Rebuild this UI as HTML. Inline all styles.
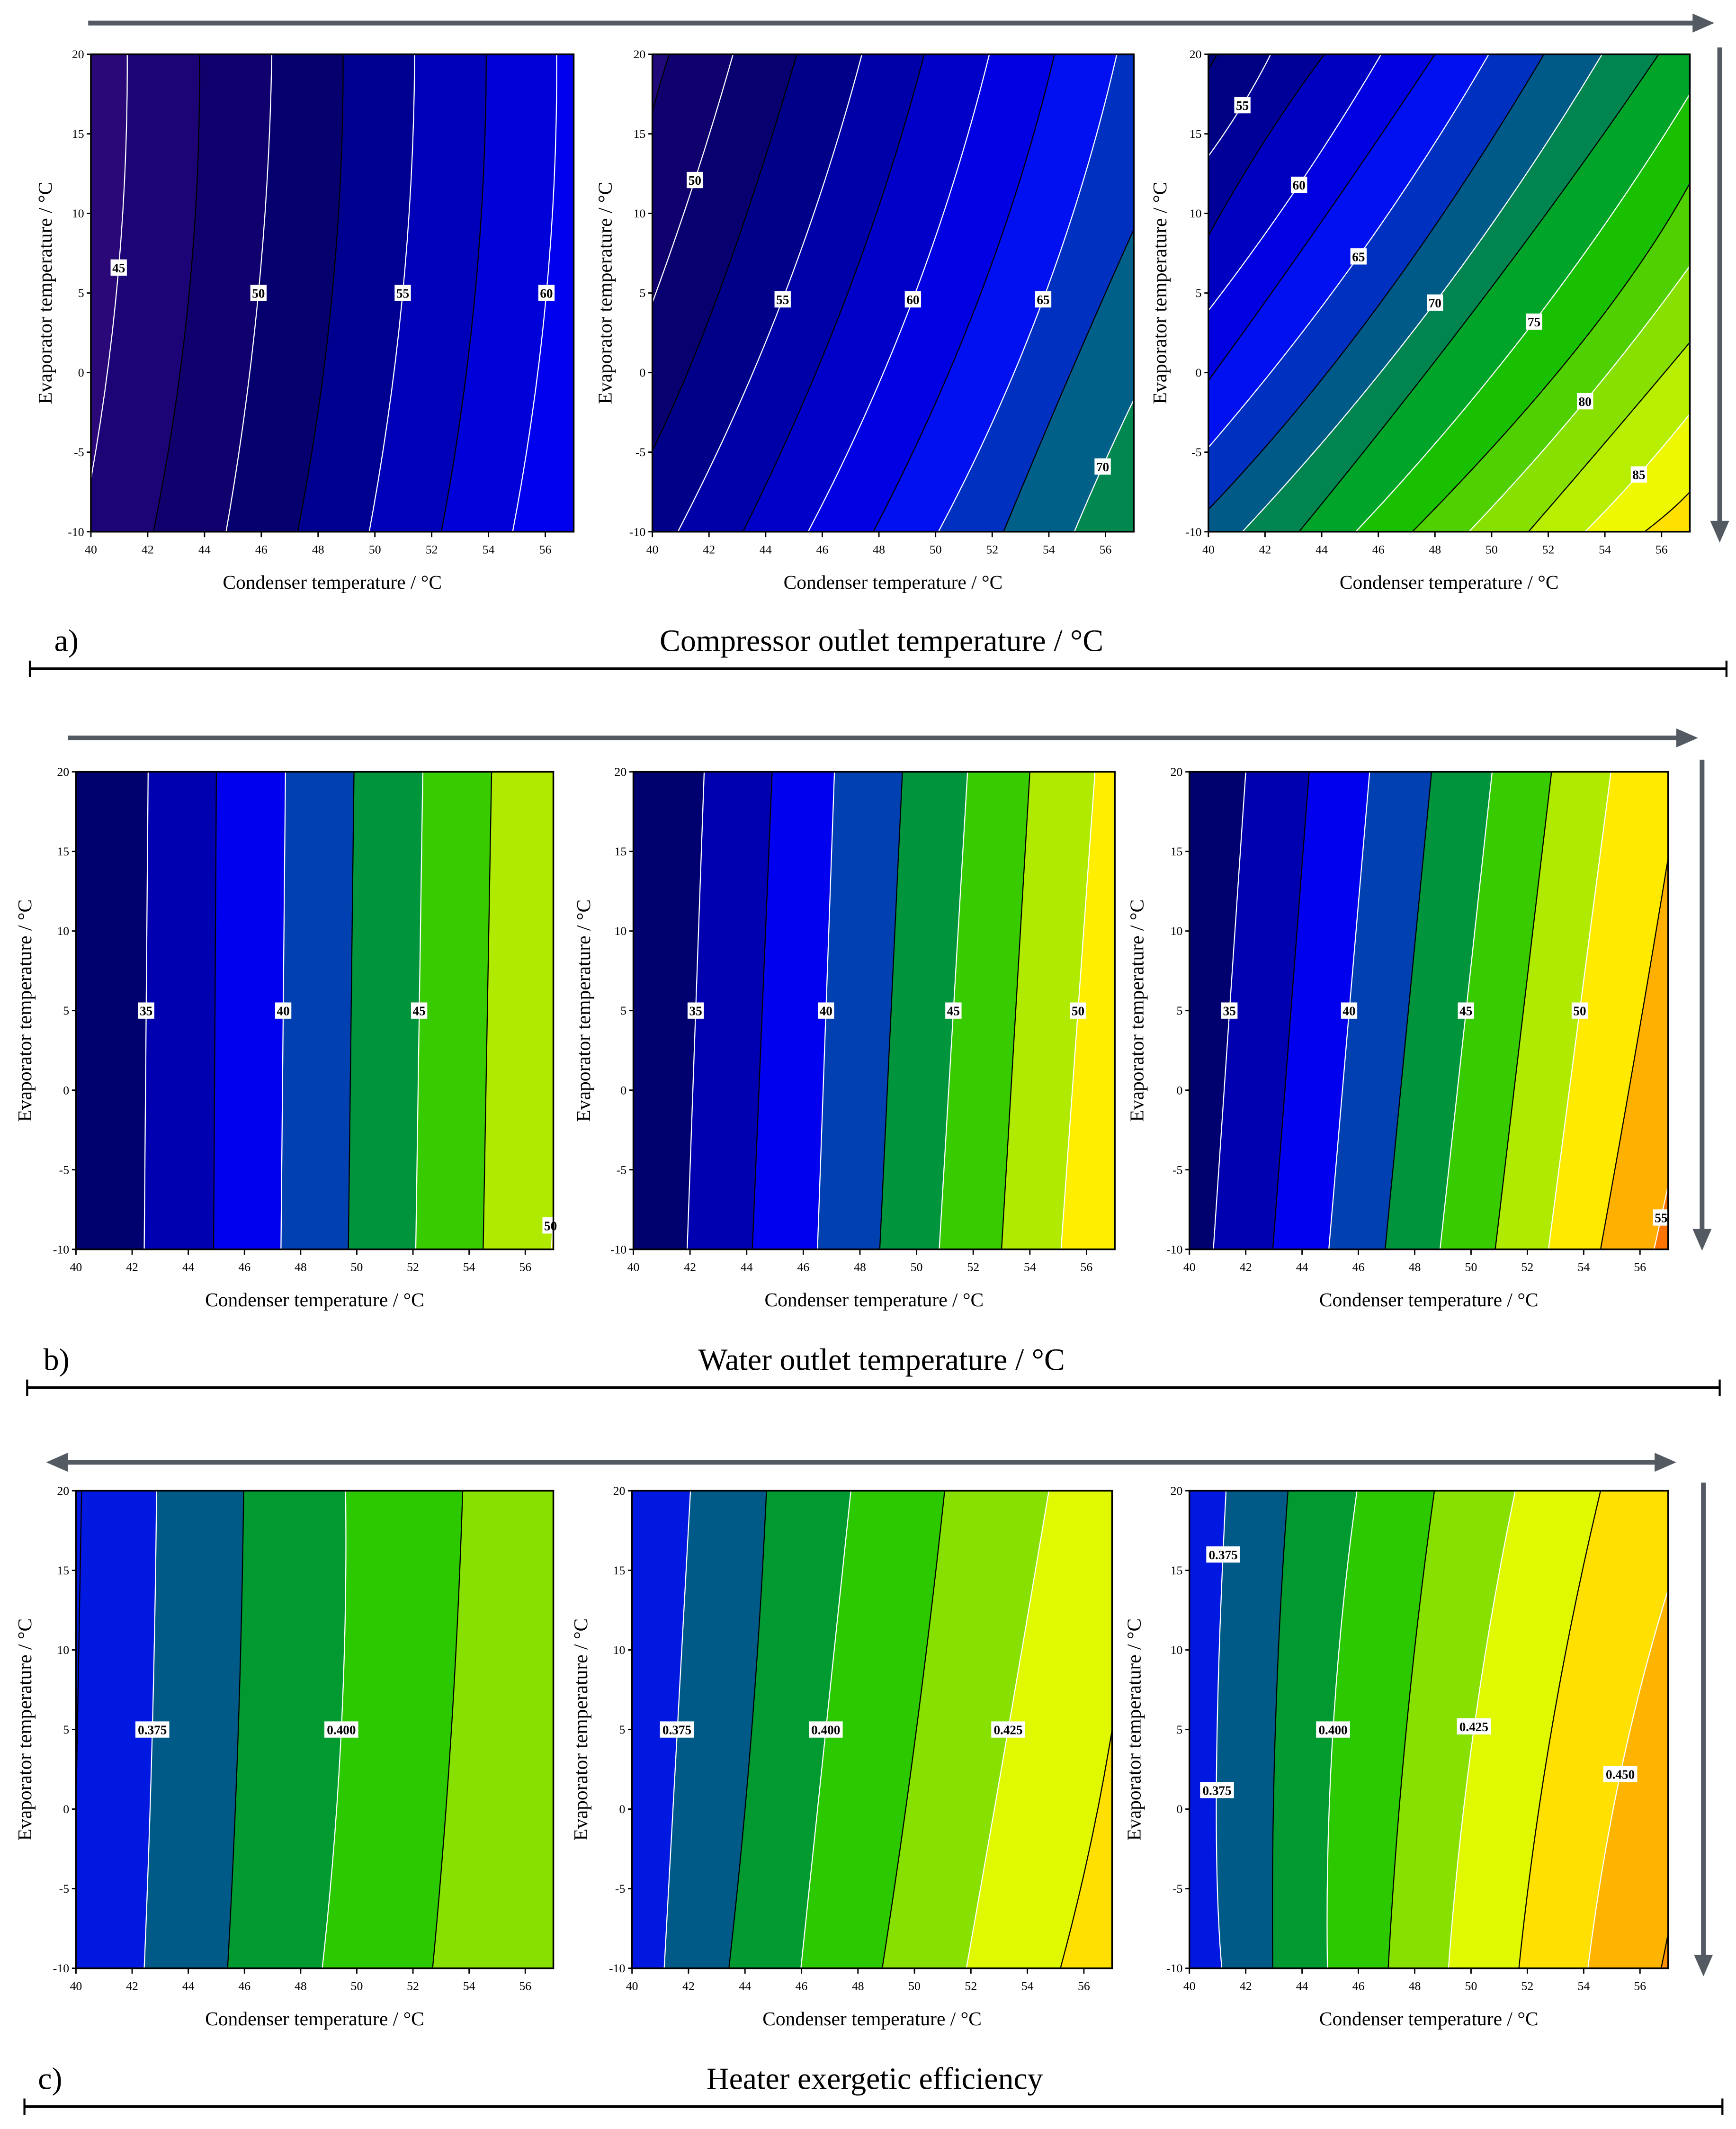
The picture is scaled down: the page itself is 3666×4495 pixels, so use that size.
<!DOCTYPE html>
<html><head><meta charset="utf-8">
<style>
html,body{margin:0;padding:0;background:#fff;width:3666px;height:4495px;overflow:hidden;}
svg{display:block;}
text{font-family:"Liberation Serif",serif;}
</style></head>
<body>
<svg id="fig" xmlns="http://www.w3.org/2000/svg" width="3666" height="4495" viewBox="0 0 1280 1569.5">
<rect x="0" y="0" width="1280" height="1569.5" fill="#fff"/>
<g id="deco">
  <line x1="65" y1="17" x2="1250" y2="17" stroke="#545a62" stroke-width="3.5"/>
  <polygon points="1264,17 1248,10 1248,24" fill="#545a62"/>
  <line x1="1268" y1="35" x2="1268" y2="386" stroke="#545a62" stroke-width="3.5"/>
  <polygon points="1268,400 1261,384 1275,384" fill="#545a62"/>
  <text x="40" y="480" font-size="23">a)</text>
  <text x="650" y="480" font-size="23" text-anchor="middle">Compressor outlet temperature / °C</text>
  <line x1="22" y1="493" x2="1273" y2="493" stroke="#000" stroke-width="2"/>
  <line x1="22" y1="487" x2="22" y2="499" stroke="#000" stroke-width="1.5"/>
  <line x1="1273" y1="487" x2="1273" y2="499" stroke="#000" stroke-width="1.5"/>
  <line x1="50" y1="544" x2="1238" y2="544" stroke="#545a62" stroke-width="3.5"/>
  <polygon points="1252,544 1236,537 1236,551" fill="#545a62"/>
  <line x1="1255" y1="560" x2="1255" y2="908" stroke="#545a62" stroke-width="3.5"/>
  <polygon points="1255,922 1248,906 1262,906" fill="#545a62"/>
  <text x="32" y="1010" font-size="23">b)</text>
  <text x="650" y="1010" font-size="23" text-anchor="middle">Water outlet temperature / °C</text>
  <line x1="20" y1="1023" x2="1268" y2="1023" stroke="#000" stroke-width="2"/>
  <line x1="20" y1="1017" x2="20" y2="1029" stroke="#000" stroke-width="1.5"/>
  <line x1="1268" y1="1017" x2="1268" y2="1029" stroke="#000" stroke-width="1.5"/>
  <line x1="48" y1="1078" x2="1222" y2="1078" stroke="#545a62" stroke-width="3.5"/>
  <polygon points="34,1078 50,1071 50,1085" fill="#545a62"/>
  <polygon points="1236,1078 1220,1071 1220,1085" fill="#545a62"/>
  <line x1="1256" y1="1093" x2="1256" y2="1443" stroke="#545a62" stroke-width="3.5"/>
  <polygon points="1256,1457 1249,1441 1263,1441" fill="#545a62"/>
  <text x="28" y="1540" font-size="23">c)</text>
  <text x="645" y="1540" font-size="23" text-anchor="middle">Heater exergetic efficiency</text>
  <line x1="18" y1="1553" x2="1270" y2="1553" stroke="#000" stroke-width="2"/>
  <line x1="18" y1="1547" x2="18" y2="1559" stroke="#000" stroke-width="1.5"/>
  <line x1="1270" y1="1547" x2="1270" y2="1559" stroke="#000" stroke-width="1.5"/>
</g>
<g id="plots"></g>
</svg>
<script>
const xTicks = [40,42,44,46,48,50,52,54,56];
const yTicks = [-10,-5,0,5,10,15,20];
const xDomain = [40,57];
const yDomain = [-10,20];

const a1Lines = [
 [[40,-6.7],[40.98,6.6],[41.28,20]],
 [[42.2,-10],[43.46,5],[43.82,20]],
 [[44.76,-10],[45.9,5],[46.37,20]],
 [[47.28,-10],[48.5,5],[48.88,20]],
 [[49.8,-10],[50.98,5],[51.4,20]],
 [[52.34,-10],[53.53,5],[53.92,20]],
 [[54.85,-10],[56.04,5],[56.4,20]]
];
const a1Colors = ["#2a0878","#1c0476","#10006e","#06006e","#000090","#0000b8","#0000d8","#0000ee"];
const a1LabelText = ["45","50","55","60"];
const a1LabelPos = [[40.98,6.6],[45.9,5],[50.98,5],[56.04,5]];

const a2Lines = [
 [[40,16.4],[40.3,18.3],[40.6,20]],
 [[40,4.4],[41.5,12.1],[42.85,20]],
 [[40,-4.9],[42.5,5.75],[45.1,20]],
 [[40.9,-10],[44.6,4.6],[47.4,20]],
 [[43.2,-10],[46.9,5],[49.6,20]],
 [[45.5,-10],[49.2,4.6],[51.9,20]],
 [[47.8,-10],[51.6,5],[54.2,20]],
 [[50.1,-10],[53.8,4.6],[56.4,20]],
 [[52.4,-10],[54.65,-0.5],[57,9]],
 [[54.9,-10],[55.9,-5.9],[57,-1.7]]
];
const a2Colors = ["#200a7a","#10006e","#08006e","#000088","#0000a8","#0000c8","#0000e2","#0010f0","#0030c0","#006088","#008850"];
const a2LabelText = ["50","55","60","65","70"];
const a2LabelPos = [[41.5,12.1],[44.6,4.6],[49.2,4.6],[53.8,4.6],[55.9,-5.9]];

const a3Lines = [
 [[39.9,18.8],[40.15,19.5],[40.3,20]],
 [[40,13.6],[41.2,16.8],[42.2,20]],
 [[40,8.6],[42,14.6],[44.1,20]],
 [[40,3.9],[43.2,11.8],[46.1,20]],
 [[40,-0.5],[44,9.5],[48,20]],
 [[40,-4.7],[45.3,7.3],[49.9,20]],
 [[40,-8.6],[46,4.2],[51.85,20]],
 [[41.2,-10],[48,4.4],[53.9,20]],
 [[43.2,-10],[50.1,5.6],[55.9,20]],
 [[45.2,-10],[51.5,3.2],[57,17.5]],
 [[47.2,-10],[53.1,1.7],[57,11.9]],
 [[49.2,-10],[53.3,-1.8],[57,6.7]],
 [[51.3,-10],[54.2,-4],[57,1.9]],
 [[53.3,-10],[55.2,-6.4],[57,-2.6]],
 [[55.4,-10],[56.3,-8.7],[57,-7.5]]
];
const a3Colors = ["#000078","#000082","#000098","#0000c0","#0000e0","#0010f0","#0030c0","#005a88","#008450","#00a428","#18c000","#50d000","#88e000","#b8ee00","#eef800","#ffe000"];
const a3LabelText = ["55","60","65","70","75","80","85"];
const a3LabelPos = [[41.2,16.8],[43.2,11.8],[45.3,7.3],[48,4.4],[51.5,3.2],[53.3,-1.8],[55.2,-6.4]];

const b1Lines = [
 [[42.43,-10],[42.5,5],[42.57,20]],
 [[44.9,-10],[44.95,5],[45.0,20]],
 [[47.3,-10],[47.38,5],[47.46,20]],
 [[49.7,-10],[49.8,5],[49.9,20]],
 [[52.1,-10],[52.22,5],[52.35,20]],
 [[54.5,-10],[54.65,5],[54.8,20]],
 [[56.93,-10],[56.98,-8.5],[57.05,-7]]
];
const b1Colors = ["#00006e","#0000b0","#0000ee","#0040b0","#00943c","#38cc00","#b0ea00","#ffee00"];
const b1LabelText = ["35","40","45","50"];
const b1LabelPos = [[42.5,5],[47.38,5],[52.22,5],[56.9,-8.5]];

const b2Lines = [
 [[41.9,-10],[42.2,5],[42.5,20]],
 [[44.2,-10],[44.55,5],[44.9,20]],
 [[46.5,-10],[46.8,5],[47.1,20]],
 [[48.7,-10],[49.1,5],[49.5,20]],
 [[50.8,-10],[51.3,5],[51.8,20]],
 [[53.0,-10],[53.5,5],[54.0,20]],
 [[55.1,-10],[55.7,5],[56.3,20]]
];
const b2Colors = ["#00006e","#0000b0","#0000ee","#0040b0","#00943c","#38cc00","#b0ea00","#ffee00"];
const b2LabelText = ["35","40","45","50"];
const b2LabelPos = [[42.2,5],[46.8,5],[51.3,5],[55.7,5]];

const b3Lines = [
 [[40.85,-10],[41.42,5],[42.0,20]],
 [[42.96,-10],[43.6,5],[44.25,20]],
 [[44.95,-10],[45.67,5],[46.4,20]],
 [[46.95,-10],[47.77,5],[48.6,20]],
 [[48.9,-10],[49.82,5],[50.75,20]],
 [[50.86,-10],[51.86,5],[52.86,20]],
 [[52.75,-10],[53.86,5],[54.97,20]],
 [[54.6,-10],[55.9,3],[57,14.6]],
 [[56.5,-10],[56.75,-8],[57,-6]]
];
const b3Colors = ["#00006e","#0000b0","#0000ee","#0040b0","#00943c","#38cc00","#b0ea00","#ffea00","#ffb000","#ff7400"];
const b3LabelText = ["35","40","45","50","55"];
const b3LabelPos = [[41.42,5],[45.67,5],[49.82,5],[53.86,5],[56.75,-8]];

const c1Lines = [
 [[39.9,-10],[40.05,5],[40.2,20]],
 [[42.43,-10],[42.72,5],[42.87,20]],
 [[45.4,-10],[45.78,5],[45.97,20]],
 [[48.77,-10],[49.45,5],[49.6,20]],
 [[52.7,-10],[53.37,5],[53.77,20]]
];
const c1Colors = ["#0018e0","#0018e0","#005a88","#009a30","#2cc800","#88e000"];
const c1LabelText = ["0.375","0.400"];
const c1LabelPos = [[42.72,5],[49.45,5]];

const c2Lines = [
 [[41.14,-10],[41.59,5],[42.07,20]],
 [[43.43,-10],[44.24,5],[44.76,20]],
 [[45.98,-10],[46.86,5],[47.75,20]],
 [[48.86,-10],[50.07,5],[51.07,20]],
 [[51.84,-10],[53.32,5],[54.76,20]],
 [[55.17,-10],[56.2,-2.5],[57,5]]
];
const c2Colors = ["#0018e0","#005a88","#009a30","#2cc800","#88e000","#e0f800","#ffe000"];
const c2LabelText = ["0.375","0.400","0.425"];
const c2LabelPos = [[41.59,5],[46.86,5],[53.32,5]];

const c3Lines = [
 [[41.15,-10],[40.96,2],[41.3,20]],
 [[42.96,-10],[43.05,5],[43.5,20]],
 [[44.9,-10],[45.1,5],[45.95,20]],
 [[47.06,-10],[47.7,5],[48.7,20]],
 [[49.2,-10],[50.1,5],[51.57,20]],
 [[51.7,-10],[52.86,5],[54.6,20]],
 [[54.15,-10],[55.3,2.2],[57,13.8]],
 [[56.75,-10],[56.88,-8.9],[57,-7.8]]
];
const c3Colors = ["#0018e0","#005a88","#009a30","#2cc800","#88e000","#e0f800","#ffe000","#ffb400","#ff9000"];
const c3LabelText = ["0.375","0.375","0.400","0.425","0.450"];
const c3LabelPos = [[41.2,16],[40.98,1.2],[45.1,5],[50.1,5.2],[55.3,2.2]];

const NS = "http://www.w3.org/2000/svg";
const root = document.getElementById("plots");

function mk(tag, attrs, parent){
  const e = document.createElementNS(NS, tag);
  for (const k in attrs) e.setAttribute(k, attrs[k]);
  parent.appendChild(e);
  return e;
}

const panels = [
 {id:"a1", x0:67, x1:423, y0:40, y1:392, lines:a1Lines, colors:a1Colors, lt:a1LabelText, lp:a1LabelPos, firstWhite:true, yt:33},
 {id:"a2", x0:481, x1:836, y0:40, y1:392, lines:a2Lines, colors:a2Colors, lt:a2LabelText, lp:a2LabelPos, firstWhite:false, yt:446},
 {id:"a3", x0:891, x1:1246, y0:40, y1:392, lines:a3Lines, colors:a3Colors, lt:a3LabelText, lp:a3LabelPos, firstWhite:false, yt:855},
 {id:"b1", x0:56, x1:408, y0:569, y1:921, lines:b1Lines, colors:b1Colors, lt:b1LabelText, lp:b1LabelPos, firstWhite:true, yt:18},
 {id:"b2", x0:467, x1:822, y0:569, y1:921, lines:b2Lines, colors:b2Colors, lt:b2LabelText, lp:b2LabelPos, firstWhite:true, yt:430},
 {id:"b3", x0:877, x1:1230, y0:569, y1:921, lines:b3Lines, colors:b3Colors, lt:b3LabelText, lp:b3LabelPos, firstWhite:true, yt:838},
 {id:"c1", x0:56, x1:408, y0:1099, y1:1451, lines:c1Lines, colors:c1Colors, lt:c1LabelText, lp:c1LabelPos, firstWhite:false, yt:18},
 {id:"c2", x0:466, x1:820, y0:1099, y1:1451, lines:c2Lines, colors:c2Colors, lt:c2LabelText, lp:c2LabelPos, firstWhite:true, yt:428},
 {id:"c3", x0:877, x1:1230, y0:1099, y1:1451, lines:c3Lines, colors:c3Colors, lt:c3LabelText, lp:c3LabelPos, firstWhite:true, yt:836}
];

panels.forEach(p => {
  const sx = v => p.x0 + (v - xDomain[0]) / (xDomain[1] - xDomain[0]) * (p.x1 - p.x0);
  const sy = v => p.y1 - (v - yDomain[0]) / (yDomain[1] - yDomain[0]) * (p.y1 - p.y0);
  const g = mk("g", {}, root);
  
  
  const clipId = "clip-" + p.id;
  const cp = mk("clipPath", {id: clipId}, g);
  mk("rect", {x:p.x0, y:p.y0, width:p.x1-p.x0, height:p.y1-p.y0}, cp);
  const fills = mk("g", {"clip-path":"url(#"+clipId+")"}, g);
  const bg = mk("rect", {x:p.x0, y:p.y0, width:p.x1-p.x0, height:p.y1-p.y0, fill:p.colors[0]}, fills);
  
  
  const EXT = 30;
  const geoms = p.lines.map(ln => {
    const P0 = [sx(ln[0][0]), sy(ln[0][1])];
    const P1 = [sx(ln[1][0]), sy(ln[1][1])];
    const P2 = [sx(ln[2][0]), sy(ln[2][1])];
    const C = [2*P1[0] - (P0[0]+P2[0])/2, 2*P1[1] - (P0[1]+P2[1])/2];
    const norm = (a,b) => { const dx=a[0]-b[0], dy=a[1]-b[1]; const l=Math.hypot(dx,dy)||1; return [dx/l, dy/l]; };
    const d0 = norm(P0, C), d2 = norm(P2, C);
    const E0 = [P0[0]+d0[0]*EXT, P0[1]+d0[1]*EXT];
    const E2 = [P2[0]+d2[0]*EXT, P2[1]+d2[1]*EXT];
    return {P0,P2,C,E0,E2};
  });
  geoms.forEach((q, i) => {
    const XR = Math.max(p.x1 + 5, q.E2[0]);
    const YT = Math.min(p.y0 - 5, q.E2[1]);
    const YB = Math.max(p.y1 + 5, q.E0[1]);
    const XL = Math.min(p.x0 - 5, q.E0[0]);
    const d = `M${q.E0[0]},${q.E0[1]} L${q.P0[0]},${q.P0[1]} Q${q.C[0]},${q.C[1]} ${q.P2[0]},${q.P2[1]} L${q.E2[0]},${q.E2[1]} L${XR},${YT} L${XR},${YB} L${XL},${YB} Z`;
    const r = mk("path", {d:d, fill:p.colors[i+1]}, fills);
    
    
  });
  geoms.forEach((q, i) => {
    const white = (i % 2 === 0) === p.firstWhite;
    const l = mk("path", {d:`M${q.P0[0]},${q.P0[1]} Q${q.C[0]},${q.C[1]} ${q.P2[0]},${q.P2[1]}`, fill:"none", stroke: white ? "#ffffff" : "#000000", "stroke-width":0.8}, fills);
    
    
  });
  p.lt.forEach((t, i) => {
    const cx = sx(p.lp[i][0]), cy = sy(p.lp[i][1]);
    const w = t.length > 2 ? 25 : 12;
    const lb = mk("g", {}, g);
    
    
    mk("rect", {x:cx-w/2, y:cy-6, width:w, height:12, fill:"#fff"}, lb);
    const tx = mk("text", {x:cx, y:cy+3.5, "font-size":9.5, "font-weight":"bold", "text-anchor":"middle", fill:"#000"}, lb);
    tx.textContent = t;
  });
  const fr = mk("rect", {x:p.x0, y:p.y0, width:p.x1-p.x0, height:p.y1-p.y0, fill:"none", stroke:"#000", "stroke-width":1.2}, g);
  
  
  xTicks.forEach(v => {
    const X = sx(v);
    mk("line", {x1:X, y1:p.y1, x2:X, y2:p.y1+4, stroke:"#000", "stroke-width":1}, g);
    const t = mk("text", {x:X, y:p.y1+16, "font-size":9, "text-anchor":"middle"}, g);
    
    
    t.textContent = v;
  });
  yTicks.forEach(v => {
    const Y = sy(v);
    mk("line", {x1:p.x0-3, y1:Y, x2:p.x0, y2:Y, stroke:"#000", "stroke-width":1}, g);
    const t = mk("text", {x:p.x0-5, y:Y+3, "font-size":9, "text-anchor":"end"}, g);
    
    
    t.textContent = v;
  });
  const xt = mk("text", {x:(p.x0+p.x1)/2, y:p.y1+42, "font-size":14.5, "text-anchor":"middle"}, g);
  
  
  xt.textContent = "Condenser temperature / °C";
  const ym = (p.y0+p.y1)/2;
  const yt = mk("text", {x:p.yt, y:ym, "font-size":14.5, "text-anchor":"middle", transform:`rotate(-90 ${p.yt} ${ym})`, dy:"5"}, g);
  
  
  yt.textContent = "Evaporator temperature / °C";
});
</script>
</body></html>
